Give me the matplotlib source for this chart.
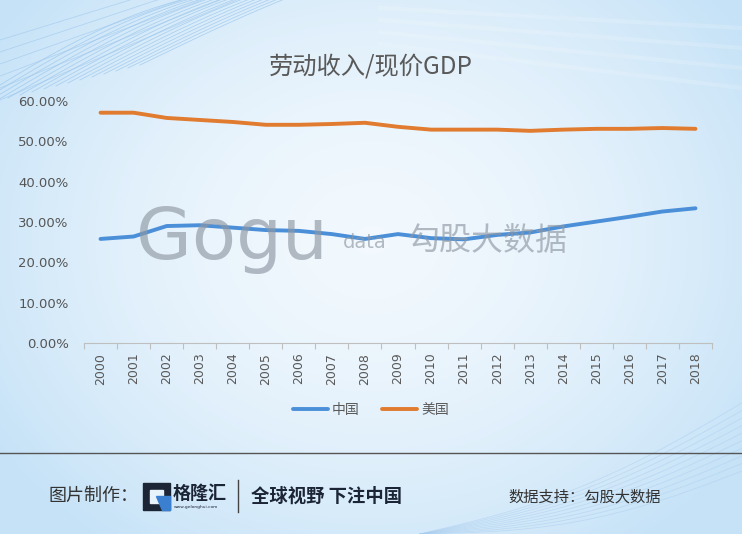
import numpy as np
import matplotlib
matplotlib.use("Agg")
import matplotlib.pyplot as plt
from matplotlib.patches import Rectangle, Polygon

plt.rcParams['font.family'] = ['Noto Sans CJK SC', 'DejaVu Sans']

years = [str(y) for y in range(2000, 2019)]
china = [0.258, 0.264, 0.290, 0.292, 0.286, 0.280, 0.278, 0.270, 0.258, 0.270,
         0.260, 0.257, 0.268, 0.274, 0.289, 0.301, 0.313, 0.326, 0.334]
usa = [0.571, 0.571, 0.558, 0.553, 0.548, 0.541, 0.541, 0.543, 0.546, 0.536,
       0.529, 0.529, 0.529, 0.526, 0.529, 0.531, 0.531, 0.533, 0.531]
series_names = ["中国", "美国"]
yticks = [0.0, 0.1, 0.2, 0.3, 0.4, 0.5, 0.6]
title = "劳动收入/现价GDP"

W, H = 742, 534
fig = plt.figure(figsize=(W / 100, H / 100), dpi=100)

# background gradient
bg = fig.add_axes([0, 0, 1, 1], zorder=-10)
bg.set_xlim(0, W)
bg.set_ylim(H, 0)
bg.axis('off')
xx, yy = np.meshgrid(np.linspace(0, 1, 300), np.linspace(0, 1, 220))
d = np.sqrt(((xx - 0.5) / 0.6) ** 2 + ((yy - 0.45) / 0.7) ** 2)
t = np.clip(d, 0, 1) ** 1.6
c_in = np.array([0.95, 0.975, 0.995])
c_out = np.array([0.78, 0.89, 0.97])
img = c_in[None, None, :] * (1 - t[..., None]) + c_out[None, None, :] * t[..., None]
bg.imshow(img, extent=[0, W, H, 0], aspect='auto', zorder=0)
# decorative wave lines (top-left)
s = np.linspace(0, 1, 200)
for k in range(16):
    xs = -40 + k * 12 + s * (300 + k * 6)
    ys = 110 - k * 3 - 120 * np.sin(np.pi * s * 0.5)
    bg.plot(xs, ys, color='#8fbfea', lw=0.6, alpha=0.6, zorder=1)
for k in range(6):
    xs = s * 260
    ys = 40 + k * 12 - s * (80 + k * 6)
    bg.plot(xs, ys, color='#9cc6ee', lw=0.6, alpha=0.6, zorder=1)
# top-right soft streaks
for k in range(4):
    xs = 380 + s * 362
    ys = 8 + k * 12 + s * (20 + k * 8)
    bg.plot(xs, ys, color='#ffffff', lw=3, alpha=0.15, zorder=1)
# bottom-right wave lines
for k in range(10):
    xs = 420 + s * 340
    ys = 534 - s * (70 + k * 8) + 20 * np.sin(np.pi * s)
    bg.plot(xs, ys, color='#a9cdef', lw=0.6, alpha=0.5, zorder=1)
# separator line
bg.plot([0, W], [453, 453], color='#555555', lw=1.0, zorder=2)

# main chart
left, right, top, bottom = 84, 712, 101, 343
ax = fig.add_axes([left / W, 1 - bottom / H, (right - left) / W, (bottom - top) / H])
ax.patch.set_alpha(0)
x = np.arange(len(years))
ax.plot(x, china, color='#4a8fd8', lw=2.8, solid_capstyle='round', label=series_names[0], zorder=3)
ax.plot(x, usa, color='#e07b2f', lw=2.8, solid_capstyle='round', label=series_names[1], zorder=3)
ax.set_xlim(-0.5, len(years) - 0.5)
ax.set_ylim(0, 0.6)
ax.set_yticks(yticks)
ax.set_yticklabels([f"{v * 100:.2f}%" for v in yticks], family=['DejaVu Sans'], fontsize=9.5, color='#555555')
ax.tick_params(axis='y', length=0, pad=11)
ax.set_xticks(x)
ax.set_xticklabels(years, rotation=90, family=['DejaVu Sans'], fontsize=9, color='#595959')
ax.tick_params(axis='x', which='major', length=0, pad=7)
ax.set_xticks(np.arange(-0.5, len(years), 1), minor=True)
ax.tick_params(axis='x', which='minor', length=4, color='#bfbfbf', width=0.8)
for sp in ['top', 'right', 'left']:
    ax.spines[sp].set_visible(False)
ax.spines['bottom'].set_color('#bfbfbf')
ax.spines['bottom'].set_linewidth(0.8)

# watermark
fig.text(136 / W, 1 - 240 / H, "Gogu", fontsize=52, family=['DejaVu Sans'], color='#8e98a3',
         alpha=0.65, va='center', ha='left', zorder=5)
fig.text(343 / W, 1 - 243 / H, "data", fontsize=14, family=['DejaVu Sans'], color='#8e98a3',
         alpha=0.65, va='center', ha='left', zorder=5)
fig.text(408 / W, 1 - 241 / H, "勾股大数据", fontsize=23, color='#8e98a3',
         alpha=0.65, va='center', ha='left', zorder=5)

# title
fig.text(371 / W, 1 - 66 / H, title, fontsize=17.5, color='#595959', ha='center', va='center')

# legend
fig.legend(loc='center', bbox_to_anchor=(371 / W, 1 - 410 / H), ncol=2, frameon=False,
           fontsize=10, handlelength=2.5, columnspacing=1.6, handletextpad=0.3,
           labelcolor='#595959')

# footer
fig.text(48 / W, 1 - 496 / H, "图片制作：", fontsize=13, color='#333333', va='center', ha='left')
bg.add_patch(Rectangle((143, 483), 27, 27, color='#1c2536', zorder=3))
bg.add_patch(Rectangle((150, 490), 13, 13, color='#e8f2fb', zorder=4))
bg.add_patch(Polygon([[156, 496], [170, 496], [170, 510], [162, 510]], closed=True, color='#3a7fd0', zorder=5))
fig.text(173 / W, 1 - 493 / H, "格隆汇", fontsize=13, color='#1c2536', va='center', ha='left', weight='bold')
fig.text(174 / W, 1 - 507 / H, "www.gelonghui.com", fontsize=3.2, color='#1c2536', va='center', ha='left',
         family=['DejaVu Sans'])
bg.plot([238, 238], [480, 512], color='#444444', lw=1.0, zorder=3)
fig.text(251 / W, 1 - 496 / H, "全球视野 下注中国", fontsize=13.2, color='#1c2536', va='center', ha='left',
         weight='bold')
fig.text(508 / W, 1 - 497 / H, "数据支持：勾股大数据", fontsize=11, color='#333333', va='center', ha='left')

fig.savefig("out.png", dpi=100)
